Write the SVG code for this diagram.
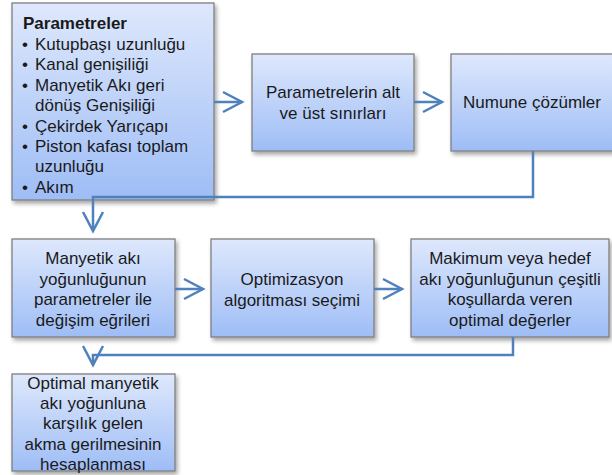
<svg xmlns="http://www.w3.org/2000/svg" width="612" height="475" viewBox="0 0 612 475">
<style>
.box{fill:url(#g);stroke:#7f7f7f;stroke-width:1.3;filter:url(#sh)}
.t{font-family:"Liberation Sans",Arial,sans-serif;font-size:17px;fill:#1a1a1a}
.c{text-anchor:middle}
.con{fill:none;stroke:#4f81bd;stroke-width:2.5;marker-end:url(#arr)}
</style>
<defs>
<linearGradient id="g" x1="0" y1="0" x2="0" y2="1">
<stop offset="0" stop-color="#dee8fc"/>
<stop offset="1" stop-color="#9ebdf6"/>
</linearGradient>
<filter id="sh" x="-10%" y="-10%" width="125%" height="125%">
<feDropShadow dx="2" dy="3" stdDeviation="2" flood-color="#000" flood-opacity="0.35"/>
</filter>
<marker id="arr" markerUnits="userSpaceOnUse" markerWidth="30" markerHeight="30" refX="0" refY="0" orient="auto" overflow="visible">
<path d="M-19,-10 L0,0 L-19,10" fill="none" stroke="#4f81bd" stroke-width="2.5"/>
</marker>
</defs>
<rect width="612" height="475" fill="#fff"/>

<g id="n1">
<rect class="box" x="12" y="3" width="202" height="197"/>
<text class="t" x="23" y="29" font-weight="bold">Parametreler</text>
<text class="t" x="22" y="50">•</text><text class="t" x="35" y="50">Kutupbaşı uzunluğu</text>
<text class="t" x="22" y="70">•</text><text class="t" x="35" y="70">Kanal genişiliği</text>
<text class="t" x="22" y="91">•</text><text class="t" x="35" y="91">Manyetik Akı geri</text>
<text class="t" x="35" y="111">dönüş Genişiliği</text>
<text class="t" x="22" y="132">•</text><text class="t" x="35" y="132">Çekirdek Yarıçapı</text>
<text class="t" x="22" y="152">•</text><text class="t" x="35" y="152">Piston kafası toplam</text>
<text class="t" x="35" y="172">uzunluğu</text>
<text class="t" x="22" y="193">•</text><text class="t" x="35" y="193">Akım</text>
</g>

<g id="n2">
<rect class="box" x="252" y="54" width="162" height="97"/>
<text class="t c" x="333" y="98">Parametrelerin alt</text>
<text class="t c" x="333" y="119">ve üst sınırları</text>
</g>

<g id="n3">
<rect class="box" x="451" y="54" width="164" height="97"/>
<text class="t c" x="532" y="108">Numune çözümler</text>
</g>

<g id="n4">
<rect class="box" x="12" y="239" width="163" height="98"/>
<text class="t c" x="93" y="264">Manyetik akı</text>
<text class="t c" x="93" y="285">yoğunluğunun</text>
<text class="t c" x="93" y="305">parametreler ile</text>
<text class="t c" x="93" y="326">değişim eğrileri</text>
</g>

<g id="n5">
<rect class="box" x="211" y="239" width="163" height="98"/>
<text class="t c" x="292" y="285">Optimizasyon</text>
<text class="t c" x="292" y="306">algoritması seçimi</text>
</g>

<g id="n6">
<rect class="box" x="411" y="239" width="198" height="98"/>
<text class="t c" x="510" y="264">Makimum veya hedef</text>
<text class="t c" x="510" y="285">akı yoğunluğunun çeşitli</text>
<text class="t c" x="510" y="305">koşullarda veren</text>
<text class="t c" x="510" y="326">optimal değerler</text>
</g>

<g id="n7">
<rect class="box" x="12" y="374" width="163" height="97"/>
<text class="t c" x="93" y="389">Optimal manyetik</text>
<text class="t c" x="93" y="409">akı yoğunluna</text>
<text class="t c" x="93" y="429">karşılık gelen</text>
<text class="t c" x="93" y="450">akma gerilmesinin</text>
<text class="t c" x="93" y="470">hesaplanması</text>
</g>

<g id="connectors">
<path class="con" d="M214,102 H242"/>
<path class="con" d="M414,102 H442"/>
<path class="con" d="M533,151 V197 H93 V231"/>
<path class="con" d="M175,289 H203"/>
<path class="con" d="M374,289 H402"/>
<path class="con" d="M513,337 V355 H93 V365"/>
</g>
</svg>
